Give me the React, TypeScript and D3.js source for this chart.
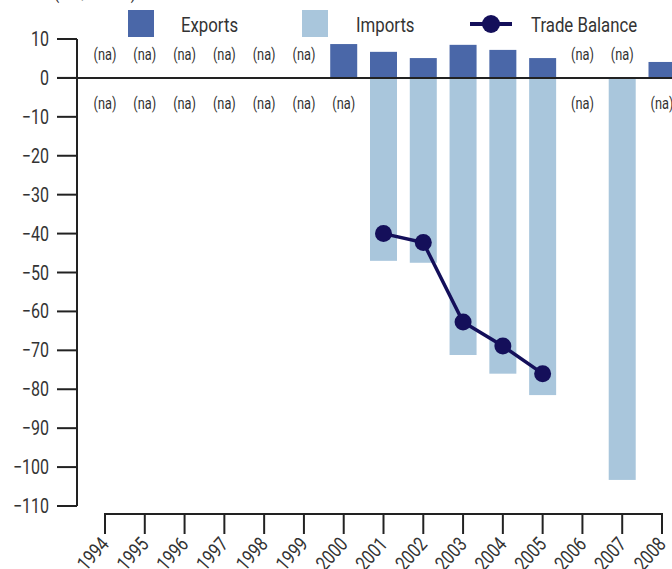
import React, { useEffect, useRef } from "react";
import * as d3 from "d3";

const years = ["1994","1995","1996","1997","1998","1999","2000","2001","2002","2003","2004","2005","2006","2007","2008"];
const exportsVals: (number | null)[] = [null,null,null,null,null,null,8.7,6.7,5.1,8.5,7.2,5.1,null,null,4.1];
const importsVals: (number | null)[] = [null,null,null,null,null,null,null,-47.0,-47.5,-71.2,-76.0,-81.5,null,-103.3,null];
const balanceVals: (number | null)[] = [null,null,null,null,null,null,null,-40.0,-42.3,-62.7,-68.9,-76.0,null,null,null];
const yTicks = [10,0,-10,-20,-30,-40,-50,-60,-70,-80,-90,-100,-110];

const FONT = "Roboto, sans-serif";
const EXP = "#4a67a8";
const IMP = "#a9c6dc";
const BAL = "#140f5a";
const TXT = "#333";
const SX = 0.8;

export default function App() {
  const ref = useRef<SVGSVGElement>(null);
  useEffect(() => {
    const svg = d3.select(ref.current);
    svg.selectAll("*").remove();
    const x = d3.scalePoint<string>().domain(years).range([105, 662]);
    const y = d3.scaleLinear().domain([-110, 10]).range([506, 39]);
    const bw = 27;

    const txt = (g: any, tx: number, ty: number, s: string, size: number, anchor = "start", rot = 0) =>
      g.append("text")
        .attr("transform", `translate(${tx},${ty}) rotate(${rot}) scale(${SX},1)`)
        .attr("text-anchor", anchor).attr("font-family", FONT).attr("font-size", size)
        .attr("fill", TXT).text(s);

    // cut-off title
    txt(svg, 12, -1, "Trade (US$ billion)", 19);

    // bars
    svg.append("g").selectAll("rect").data(years.map((yr, i) => ({ yr, v: importsVals[i] })).filter(d => d.v !== null))
      .join("rect").attr("x", d => x(d.yr)! - bw / 2).attr("width", bw)
      .attr("y", y(0)).attr("height", d => y(d.v as number) - y(0)).attr("fill", IMP);
    svg.append("g").selectAll("rect").data(years.map((yr, i) => ({ yr, v: exportsVals[i] })).filter(d => d.v !== null))
      .join("rect").attr("x", d => x(d.yr)! - bw / 2).attr("width", bw)
      .attr("y", d => y(d.v as number)).attr("height", d => y(0) - y(d.v as number)).attr("fill", EXP);

    // na labels
    years.forEach((yr, i) => {
      if (exportsVals[i] === null) txt(svg, x(yr)!, 60, "(na)", 16, "middle");
      if (importsVals[i] === null) txt(svg, x(yr)!, 109, "(na)", 16, "middle");
    });

    // zero line
    svg.append("line").attr("x1", 57).attr("x2", 672).attr("y1", y(0)).attr("y2", y(0)).attr("stroke", "#222").attr("stroke-width", 2);

    // y axis
    const ya = svg.append("g");
    ya.append("line").attr("x1", 77).attr("x2", 77).attr("y1", y(10)).attr("y2", y(-110)).attr("stroke", "#222").attr("stroke-width", 2);
    yTicks.forEach(t => {
      ya.append("line").attr("x1", 57).attr("x2", 77).attr("y1", y(t)).attr("y2", y(t)).attr("stroke", "#222").attr("stroke-width", 2);
      txt(ya, 49, y(t) + 7, t < 0 ? "\u2212" + Math.abs(t) : String(t), 20, "end");
    });

    // x axis
    const xa = svg.append("g");
    xa.append("line").attr("x1", 104).attr("x2", 663).attr("y1", 514).attr("y2", 514).attr("stroke", "#222").attr("stroke-width", 2);
    years.forEach(yr => {
      xa.append("line").attr("x1", x(yr)!).attr("x2", x(yr)!).attr("y1", 514).attr("y2", 534).attr("stroke", "#222").attr("stroke-width", 2);
      txt(xa, x(yr)! + 5, 545, yr, 20, "end", -48);
    });

    // balance line
    const pts = years.map((yr, i) => ({ yr, v: balanceVals[i] })).filter(d => d.v !== null) as { yr: string; v: number }[];
    const line = d3.line<{ yr: string; v: number }>().x(d => x(d.yr)!).y(d => y(d.v));
    svg.append("path").attr("d", line(pts)!).attr("fill", "none").attr("stroke", BAL).attr("stroke-width", 3.5);
    svg.append("g").selectAll("circle").data(pts).join("circle")
      .attr("cx", d => x(d.yr)!).attr("cy", d => y(d.v)).attr("r", 8.5).attr("fill", BAL);

    // legend
    const lg = svg.append("g");
    lg.append("rect").attr("x", 128).attr("y", 10).attr("width", 26).attr("height", 27).attr("fill", EXP);
    txt(lg, 181, 32, "Exports", 21);
    lg.append("rect").attr("x", 302).attr("y", 10).attr("width", 26).attr("height", 27).attr("fill", IMP);
    txt(lg, 356, 32, "Imports", 21);
    lg.append("line").attr("x1", 470).attr("x2", 512).attr("y1", 24).attr("y2", 24).attr("stroke", BAL).attr("stroke-width", 4);
    lg.append("circle").attr("cx", 491).attr("cy", 24).attr("r", 9).attr("fill", BAL);
    txt(lg, 531, 32, "Trade Balance", 21);
  }, []);
  return (
    <svg ref={ref} width={672} height={569} style={{ position: "absolute", left: 0, top: 0, background: "#fff" }} />
  );
}
